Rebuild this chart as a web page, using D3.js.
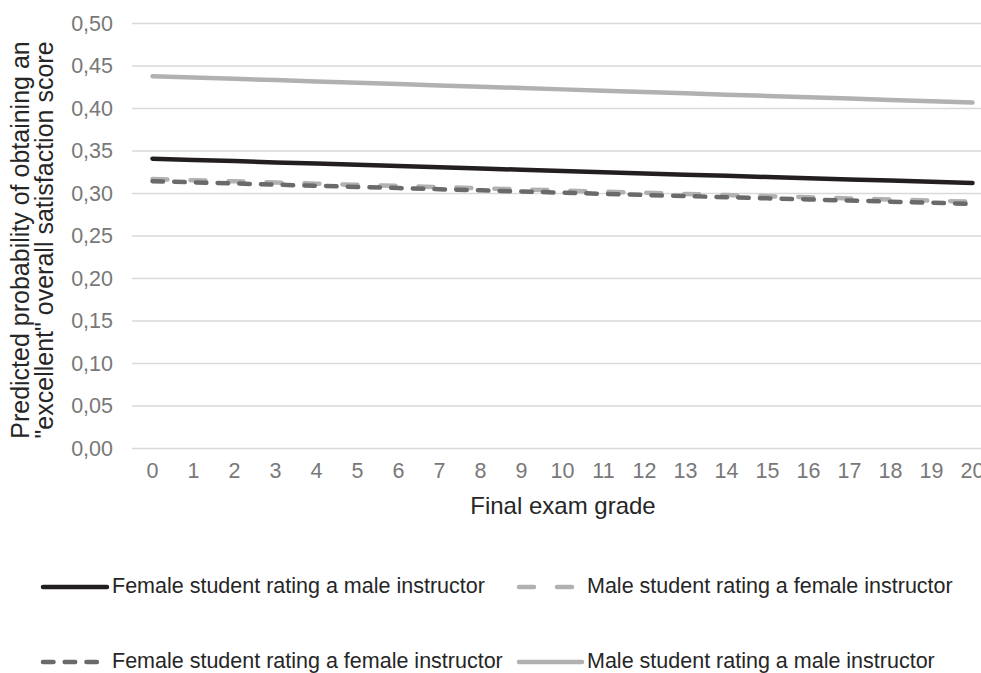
<!DOCTYPE html>
<html>
<head>
<meta charset="utf-8">
<script src="https://cdn.jsdelivr.net/npm/d3@7"></script>
<style>
  html, body { margin: 0; padding: 0; background: #fff; }
  svg { display: block; font-family: "Liberation Sans", Arial, sans-serif; }
</style>
</head>
<body>
<svg id="chart" width="981" height="673"></svg>
<script>
// ---- data ----
const grades = [0,1,2,3,4,5,6,7,8,9,10,11,12,13,14,15,16,17,18,19,20];
const yTicks = [0, 0.05, 0.10, 0.15, 0.20, 0.25, 0.30, 0.35, 0.40, 0.45, 0.50];
const seriesNames = [
  "Female student rating a male instructor",
  "Male student rating a female instructor",
  "Female student rating a female instructor",
  "Male student rating a male instructor"
];
const femaleStudentMaleInstr = [0.3410,0.3395,0.3381,0.3366,0.3352,0.3337,0.3323,0.3308,0.3294,0.3279,0.3265,0.3251,0.3236,0.3222,0.3208,0.3194,0.3180,0.3166,0.3152,0.3138,0.3124];
const maleStudentFemaleInstr = [0.3170,0.3156,0.3143,0.3129,0.3116,0.3102,0.3089,0.3075,0.3062,0.3048,0.3035,0.3021,0.3008,0.2995,0.2981,0.2968,0.2955,0.2942,0.2929,0.2916,0.2903];
const femaleStudentFemaleInstr = [0.3145,0.3131,0.3118,0.3104,0.3091,0.3077,0.3064,0.3050,0.3037,0.3023,0.3010,0.2996,0.2983,0.2970,0.2956,0.2943,0.2930,0.2917,0.2904,0.2891,0.2878];
const maleStudentMaleInstr = [0.4380,0.4365,0.4349,0.4334,0.4318,0.4303,0.4287,0.4272,0.4256,0.4241,0.4225,0.4210,0.4194,0.4179,0.4163,0.4148,0.4132,0.4117,0.4101,0.4086,0.4070];
const xTitle = "Final exam grade";
const yTitle = ["Predicted probability of obtaining an", "\"excellent\" overall satisfaction score"];

(function () {
// ---- styles (separate from data) ----
const styles = [
  { color: "#231f20", dash: null },
  { color: "#b1b1b1", dash: "15,23" },
  { color: "#6a6a6a", dash: "10.5,11.2" },
  { color: "#b1b1b1", dash: null }
];
const seriesValues = [femaleStudentMaleInstr, maleStudentFemaleInstr, femaleStudentFemaleInstr, maleStudentMaleInstr];

const svg = d3.select("#chart");
const pLeft = 132, pRight = 993, pTop = 23.5, pBottom = 448.5;

const x = d3.scaleBand().domain(grades).range([pLeft, pRight]).padding(0);
const xc = d => x(d) + x.bandwidth() / 2;
const y = d3.scaleLinear().domain([0, 0.5]).range([pBottom, pTop]);

const loc = d3.formatLocale({ decimal: ",", thousands: ".", grouping: [3], currency: ["", ""] });
const fmt = loc.format(".2f");

// gridlines
svg.append("g").selectAll("line").data(yTicks).join("line")
  .attr("x1", pLeft).attr("x2", pRight)
  .attr("y1", d => y(d)).attr("y2", d => y(d))
  .attr("stroke", "#d9d9d9").attr("stroke-width", 1.5);

// y axis labels
const yAxis = d3.axisLeft(y).tickValues(yTicks).tickFormat(fmt).tickSize(0).tickPadding(19);
const gy = svg.append("g").attr("transform", `translate(${pLeft},0)`).call(yAxis);
gy.select(".domain").remove();
gy.selectAll("text").attr("fill", "#787878").style("font-size", "21.5px").style("font-family", "Liberation Sans, Arial, sans-serif");

// x axis labels
const xAxis = d3.axisBottom(x).tickSize(0).tickPadding(14);
const gx = svg.append("g").attr("transform", `translate(0,${pBottom})`).call(xAxis);
gx.select(".domain").remove();
gx.selectAll("text").attr("fill", "#787878").style("font-size", "21.5px").style("font-family", "Liberation Sans, Arial, sans-serif");

// lines
const line = d3.line().x((d, i) => xc(grades[i])).y(d => y(d));
const order = [3, 0, 1, 2];
order.forEach(k => {
  svg.append("path")
    .datum(seriesValues[k])
    .attr("d", line)
    .attr("fill", "none")
    .attr("stroke", styles[k].color)
    .attr("stroke-width", 4.5)
    .attr("stroke-linecap", "round")
    .attr("stroke-linejoin", "round")
    .attr("stroke-dasharray", styles[k].dash);
});

// axis titles
svg.append("text")
  .attr("x", 563).attr("y", 508)
  .attr("text-anchor", "middle").attr("dominant-baseline", "middle")
  .attr("fill", "#262626").style("font-size", "24px")
  .text(xTitle);

const yt = svg.append("text")
  .attr("transform", "translate(0,240) rotate(-90)")
  .attr("text-anchor", "middle")
  .attr("fill", "#262626").style("font-size", "25px");
yTitle.forEach((t, i) => {
  yt.append("tspan").attr("x", 0).attr("y", 22 + i * 24).attr("dominant-baseline", "middle").text(t);
});

// legend
const legendPos = [
  { x1: 43, x2: 107, tx: 112, y: 587 },
  { x1: 519, x2: 577, tx: 587, y: 587 },
  { x1: 43, x2: 100, tx: 112, y: 662 },
  { x1: 519, x2: 582, tx: 587, y: 662 }
];
seriesNames.forEach((name, k) => {
  const p = legendPos[k];
  const g = svg.append("g");
  g.append("line")
    .attr("x1", p.x1).attr("x2", p.x2).attr("y1", p.y).attr("y2", p.y)
    .attr("stroke", styles[k].color).attr("stroke-width", 4.5)
    .attr("stroke-linecap", "round")
    .attr("stroke-dasharray", styles[k].dash);
  g.append("text")
    .attr("x", p.tx).attr("y", p.y)
    .attr("dominant-baseline", "middle")
    .attr("fill", "#262626").style("font-size", "21.5px")
    .text(name);
});
})();
</script>
</body>
</html>
